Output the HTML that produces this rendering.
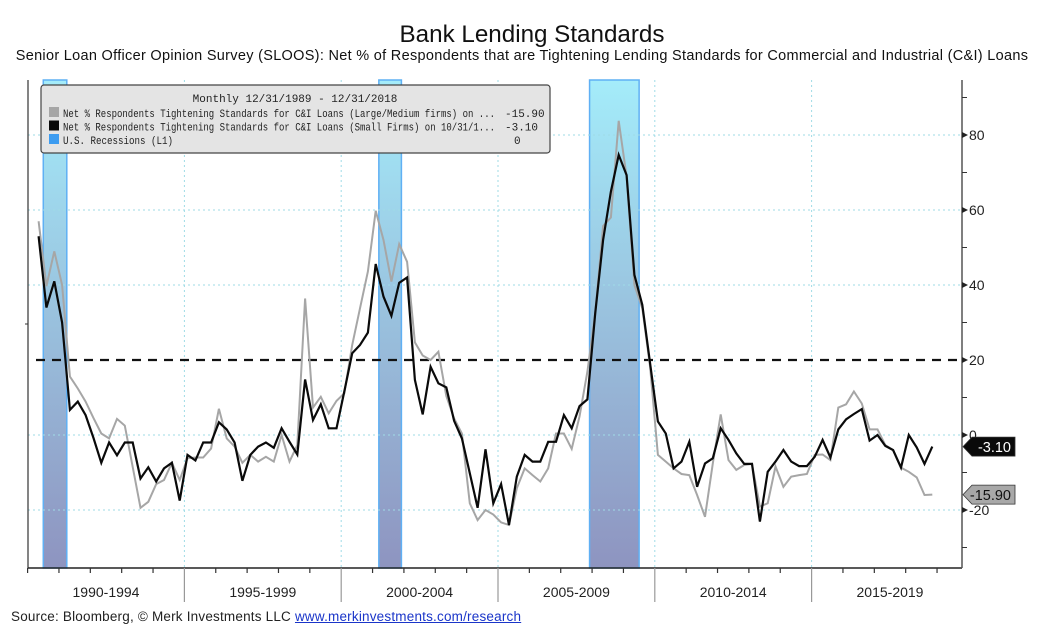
<!DOCTYPE html>
<html><head><meta charset="utf-8">
<style>
html,body{margin:0;padding:0;background:#fff;}
body{width:1064px;height:635px;overflow:hidden;position:relative;font-family:"Liberation Sans",sans-serif;}
#title{position:absolute;left:0;width:1064px;top:21px;text-align:center;font-size:24.2px;color:#111;}
#subtitle{position:absolute;left:-10px;width:1064px;top:48px;text-align:center;font-size:14.5px;letter-spacing:0.3px;color:#111;white-space:nowrap;}
#source{position:absolute;left:11px;top:609px;font-size:13.5px;letter-spacing:0.2px;color:#222;}
#source span{color:#1a35c9;text-decoration:underline;}
svg{position:absolute;left:0;top:0;}
</style></head>
<body>
<div id="title">Bank Lending Standards</div>
<div id="subtitle">Senior Loan Officer Opinion Survey (SLOOS): Net % of Respondents that are Tightening Lending Standards for Commercial and Industrial (C&amp;I) Loans</div>
<div id="source">Source: Bloomberg, © Merk Investments LLC <span>www.merkinvestments.com/research</span></div>
<svg id="chart" width="1064" height="635">
<defs>
<linearGradient id="recg" x1="0" y1="0" x2="0" y2="1">
<stop offset="0" stop-color="#a4ecfa"/><stop offset="1" stop-color="#8e94c0"/>
</linearGradient>
</defs>
</svg>
<script>
// ---- data ----
const startQuarter = [1990, 2];
const largeFirms = [57,39.7,49,40,15.6,12.4,8.9,4.5,0.4,-0.9,4.3,2.5,-8.5,-19.4,-17.8,-13.1,-12,-7.4,-12,-6.2,-6,-6,-3.6,7,-0.9,-3.1,-7.4,-5.3,-7.1,-5.8,-7.1,0,-7.1,-2.7,36.4,7.3,10.2,5.8,9.1,11.1,24,33.8,43.6,59.8,52,40.9,50.9,46.2,24.7,21.2,20,22.2,10.4,4.4,0.4,-18.2,-22.7,-20,-21.2,-23.3,-24,-14.2,-8.9,-10.7,-12.4,-8.9,0.4,0.4,-3.7,4.9,16.9,32.4,55.7,58,83.8,68.9,40,33.8,18.2,-5.3,-7.1,-8.9,-10.4,-10.7,-16,-21.8,-7.6,5.5,-6.7,-9.3,-8,-7.7,-19.1,-18.2,-8.4,-13.8,-11.1,-10.7,-10.4,-5.3,-5.2,-6.7,7.3,8.2,11.6,8.4,1.5,1.5,-2.7,-4,-8.7,-9.8,-11.3,-16,-15.9];
const smallFirms = [53,34,41,30,6.7,8.9,5.3,-0.8,-7.4,-2,-5.4,-2,-2,-11.6,-8.6,-12.4,-8.9,-7.4,-17.5,-5.3,-6.8,-2,-2,3.4,1.5,-2,-12.2,-5.3,-3.1,-2,-3.4,1.8,-1.8,-5.2,14.8,4,8.2,1.8,1.8,11.6,21.8,24,27.3,45.6,36.9,31.8,40.6,42,14.7,5.5,18.2,13.8,12.7,3.8,-0.9,-10.2,-19.4,-3.8,-18.2,-13.1,-24,-11.1,-5.3,-7.1,-7.1,-1.8,-1.8,5.3,1.8,7.7,9.5,32.4,52,64.9,74.7,69.3,42.7,34.7,19.1,3.6,0.4,-8.9,-7.1,-1.8,-13.8,-7.6,-6.2,1.8,-1.3,-4.9,-7.7,-7.7,-23.1,-9.8,-7.1,-4,-7.1,-8.3,-8.3,-5.8,-1.3,-6,1.5,4.2,5.6,6.9,-1.5,0,-2.9,-4,-8.7,0,-3.3,-7.7,-3.1];
const recessionStarts = [1990.5, 2001.2, 2007.92];
const recessionEnds = [1991.25, 2001.92, 2009.5];
const yTickLabels = [80, 60, 40, 20, 0, -20];
const periodLabels = ["1990-1994","1995-1999","2000-2004","2005-2009","2010-2014","2015-2019"];
const thresholdValue = 20;
const lastLarge = "-15.90", lastSmall = "-3.10";

// ---- axes ----
const L = 28, R = 962, T = 80, B = 568;
function xScale(t){ return 27.6 + (t - 1990) * 31.36; }
function yScale(v){ return 435 - v * 3.75; }
const quarterTimes = largeFirms.map((_, i) => startQuarter[0] + (startQuarter[1]-1)/4 + 0.1 + i*0.25);

const svg = document.getElementById('chart');
const NS = 'http://www.w3.org/2000/svg';
function mk(tag, attrs, parent){ const e = document.createElementNS(NS, tag); for (const k in attrs) e.setAttribute(k, attrs[k]); (parent||svg).appendChild(e); return e; }

recessionStarts.forEach((s, i) => {
  const x1 = xScale(s), x2 = xScale(recessionEnds[i]);
  const r = mk('rect', {x:x1, y:T, width:x2-x1, height:B-T, fill:'url(#recg)', stroke:'#5fb0f4', 'stroke-width':1.5});
  
  
});

const gridG = mk('g', {});


yTickLabels.forEach(v => {
  if (v === thresholdValue) return;
  mk('line', {x1:L, x2:R, y1:yScale(v), y2:yScale(v), stroke:'#9fdbe6', 'stroke-width':1, 'stroke-dasharray':'2,3'}, gridG);
});
[1995,2000,2005,2010,2015].forEach(yr => {
  mk('line', {x1:xScale(yr), x2:xScale(yr), y1:T, y2:B, stroke:'#9fdbe6', 'stroke-width':1, 'stroke-dasharray':'2,3'}, gridG);
});

const th = mk('line', {x1:L+8, x2:R, y1:yScale(thresholdValue), y2:yScale(thresholdValue), stroke:'#111', 'stroke-width':2.2, 'stroke-dasharray':'9,7'});



function line(vals, color, w, name){
  const d = vals.map((v, i) => (i ? 'L' : 'M') + xScale(quarterTimes[i]).toFixed(1) + ',' + yScale(v).toFixed(1)).join(' ');
  const p = mk('path', {d:d, fill:'none', stroke:color, 'stroke-width':w, 'stroke-linejoin':'miter'});
  
  
}
line(largeFirms, '#a6a6a6', 2, 'series-large-medium-firms');
line(smallFirms, '#0a0a0a', 2.2, 'series-small-firms');

const ax = mk('g', {});


mk('line', {x1:L, x2:L, y1:T, y2:B, stroke:'#333', 'stroke-width':1.2}, ax);
mk('line', {x1:L-3, x2:L, y1:324, y2:324, stroke:'#333', 'stroke-width':1}, ax);
mk('line', {x1:L, x2:R, y1:B, y2:B, stroke:'#222', 'stroke-width':1.6}, ax);
mk('line', {x1:R, x2:R, y1:T, y2:B, stroke:'#555', 'stroke-width':1.5}, ax);
for (let v = -30; v <= 90; v += 10) {
  if (yTickLabels.includes(v)) continue;
  mk('line', {x1:R, x2:R+5, y1:yScale(v), y2:yScale(v), stroke:'#333', 'stroke-width':1}, ax);
}
yTickLabels.forEach(v => {
  const y = yScale(v);
  mk('path', {d:`M${R},${y-3} L${R+6},${y} L${R},${y+3} Z`, fill:'#222'}, ax);
  const t = mk('text', {x:R+7, y:y+5, 'font-size':14, fill:'#222', 'font-family':'Liberation Sans, sans-serif'});
  t.textContent = v < 0 ? '-' + Math.abs(v) : String(v);
  
  
});
for (let yr = 1990; yr <= 2019; yr++) {
  const x = xScale(yr);
  const sep = yr % 5 === 0 && yr > 1990;
  mk('line', {x1:x, x2:x, y1:B, y2: sep ? 602 : B+5, stroke: sep ? '#999' : '#333', 'stroke-width':1.2}, ax);
}
periodLabels.forEach((lab, i) => {
  const x = (xScale(1990 + 5*i) + xScale(1995 + 5*i)) / 2;
  const t = mk('text', {x:x, y:597, 'font-size':14, 'text-anchor':'middle', fill:'#222', 'font-family':'Liberation Sans, sans-serif'});
  t.textContent = lab;
  
  
});

function tag(val, txt, fill, tcolor, name){
  const y = yScale(parseFloat(val));
  const g = mk('g', {});
  
  
  mk('path', {d:`M${R+1},${y} L${R+10},${y-9.5} L1015,${y-9.5} L1015,${y+9.5} L${R+10},${y+9.5} Z`, fill:fill, stroke:'#333', 'stroke-width':0.8}, g);
  const t = mk('text', {x:1011, y:y+5.5, 'font-size':14.5, 'text-anchor':'end', fill:tcolor, 'font-family':'Liberation Sans, sans-serif'}, g);
  t.textContent = txt;
}
tag(lastLarge, lastLarge, '#a8a8a8', '#111', 'last-value-tag-large');
tag(lastSmall, lastSmall, '#0a0a0a', '#fff', 'last-value-tag-small');

const lg = mk('g', {});


mk('rect', {x:41, y:85, width:509, height:68, rx:3, fill:'#e4e4e4', stroke:'#444', 'stroke-width':1.2}, lg);
const mono = 'Liberation Mono, monospace';
const lt = mk('text', {x:295, y:102, 'font-size':11, 'text-anchor':'middle', fill:'#222', 'font-family':mono}, lg);
lt.textContent = 'Monthly 12/31/1989 - 12/31/2018';
const rows = [
  ['#a6a6a6', 'Net % Respondents Tightening Standards for C&I Loans (Large/Medium firms) on ...', '-15.90', 'legend-entry-large'],
  ['#0a0a0a', 'Net % Respondents Tightening Standards for C&I Loans (Small Firms) on 10/31/1...', '-3.10', 'legend-entry-small'],
  ['#3d9cf0', 'U.S. Recessions (L1)', '0', 'legend-entry-recessions']
];
rows.forEach((r, i) => {
  const y = 117 + i * 13.5;
  const g = mk('g', {}, lg);
  
  
  mk('rect', {x:49, y:y-10, width:10, height:10, fill:r[0]}, g);
  const a = mk('text', {x:63, y:y, 'font-size':11, fill:'#222', 'font-family':mono, textLength: i < 2 ? 432 : 110, lengthAdjust:'spacingAndGlyphs'}, g);
  a.textContent = r[1];
  const b = mk('text', {x: i === 2 ? 514 : 505, y:y, 'font-size':11, fill:'#222', 'font-family':mono}, g);
  b.textContent = r[2];
});
</script>
</body></html>
